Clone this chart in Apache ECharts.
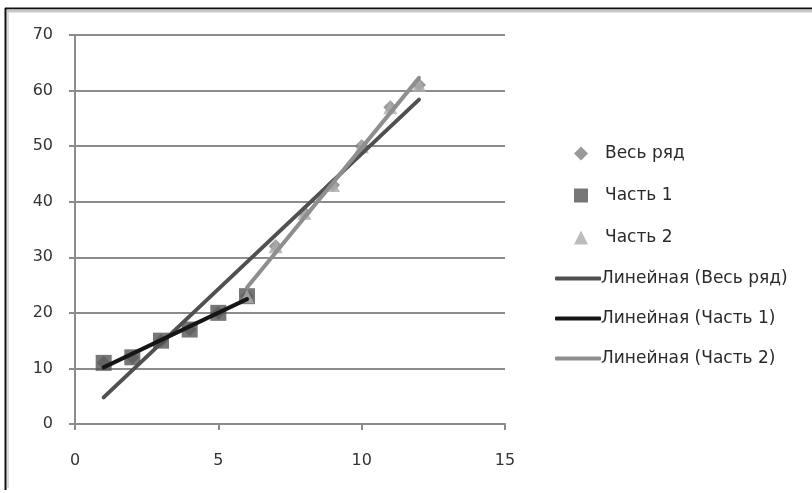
<!DOCTYPE html>
<html>
<head>
<meta charset="utf-8">
<script src="https://cdn.jsdelivr.net/npm/echarts@6/dist/echarts.min.js"></script>
<style>
  html, body { margin: 0; padding: 0; background: #fff; }
  #chart { width: 812px; height: 493px; }
</style>
</head>
<body>
<div id="chart"></div>
<script>
// Whole series and its two parts
const wholeX = [1, 2, 3, 4, 5, 6, 7, 8, 9, 10, 11, 12];
const wholeY = [11, 12, 15, 17, 20, 23, 32, 38, 43, 50, 57, 61];
const part1X = [1, 2, 3, 4, 5, 6];
const part1Y = [11, 12, 15, 17, 20, 23];
const part2X = [6, 7, 8, 9, 10, 11, 12];
const part2Y = [23, 32, 38, 43, 50, 57, 61];

const names = ['Весь ряд', 'Часть 1', 'Часть 2',
  'Линейная (Весь ряд)', 'Линейная (Часть 1)', 'Линейная (Часть 2)'];

const xTicks = [0, 5, 10, 15];
const yTicks = [0, 10, 20, 30, 40, 50, 60, 70];

function pairs(xs, ys) { return xs.map((x, i) => [x, ys[i]]); }

// Least-squares linear trend drawn between the first and last x of a series
function trend(xs, ys) {
  const n = xs.length;
  const mx = xs.reduce((a, b) => a + b, 0) / n;
  const my = ys.reduce((a, b) => a + b, 0) / n;
  let sxy = 0, sxx = 0;
  for (let i = 0; i < n; i++) {
    sxy += (xs[i] - mx) * (ys[i] - my);
    sxx += (xs[i] - mx) * (xs[i] - mx);
  }
  const k = sxy / sxx, b = my - k * mx;
  const x0 = Math.min(...xs), x1 = Math.max(...xs);
  return [[x0, k * x0 + b], [x1, k * x1 + b]];
}

const font = '"DejaVu Sans", sans-serif';
const chart = echarts.init(document.getElementById('chart'), null, { renderer: 'canvas' });

function trendSeries(name, data, color, z) {
  return {
    name, type: 'line', data, symbol: 'none', z,
    lineStyle: { color, width: 4, cap: 'round' },
    itemStyle: { color },
    emphasis: { disabled: true }, silent: true, animation: false
  };
}

const legendText = { color: '#2a2a2a', fontSize: 17, fontFamily: font, lineHeight: 14 };

chart.setOption({
  animation: false,
  grid: { left: 75, right: 307, top: 35, bottom: 69 },
  xAxis: {
    type: 'value', min: xTicks[0], max: xTicks[xTicks.length - 1], interval: 5,
    axisLine: { show: true, onZero: false, lineStyle: { color: '#8c8c8c', width: 2 } },
    axisTick: { show: true, length: 6, lineStyle: { color: '#8c8c8c', width: 2 } },
    axisLabel: { margin: 29, color: '#333', fontSize: 16, fontFamily: font },
    splitLine: { show: false }
  },
  yAxis: {
    type: 'value', min: yTicks[0], max: yTicks[yTicks.length - 1], interval: 10,
    axisLine: { show: true, lineStyle: { color: '#8c8c8c', width: 2 } },
    axisTick: { show: true, length: 6, lineStyle: { color: '#8c8c8c', width: 2 } },
    axisLabel: { margin: 22, color: '#333', fontSize: 16, fontFamily: font },
    splitLine: { show: true, lineStyle: { color: '#8c8c8c', width: 2 } }
  },
  legend: [
    {
      orient: 'vertical', left: 569, top: 140,
      itemWidth: 14, itemHeight: 14, itemGap: 25,
      textStyle: Object.assign({ padding: [0, 0, 0, 12] }, legendText),
      data: [
        { name: names[0], icon: 'diamond' },
        { name: names[1], icon: 'rect' },
        { name: names[2], icon: 'triangle' }
      ]
    },
    {
      orient: 'vertical', left: 550, top: 265,
      itemWidth: 46, itemHeight: 4, itemGap: 23,
      textStyle: Object.assign({ padding: [0, 0, 0, -5] }, legendText),
      data: [
        { name: names[3], icon: 'roundRect' },
        { name: names[4], icon: 'roundRect' },
        { name: names[5], icon: 'roundRect' }
      ]
    }
  ],
  graphic: [
    { type: 'line', shape: { x1: 5, y1: 8.5, x2: 812, y2: 8.5 }, style: { stroke: '#111', lineWidth: 2 }, silent: true },
    { type: 'line', shape: { x1: 7, y1: 11, x2: 812, y2: 11 }, style: { stroke: '#c8c8c8', lineWidth: 3 }, silent: true },
    { type: 'line', shape: { x1: 5.5, y1: 8, x2: 5.5, y2: 490 }, style: { stroke: '#111', lineWidth: 2 }, silent: true },
    { type: 'line', shape: { x1: 8, y1: 12, x2: 8, y2: 488 }, style: { stroke: '#dcdcdc', lineWidth: 2 }, silent: true }
  ],
  series: [
    { name: names[0], type: 'scatter', data: pairs(wholeX, wholeY), symbol: 'diamond', symbolSize: 14,
      itemStyle: { color: '#808080' }, z: 2 },
    { name: names[1], type: 'scatter', data: pairs(part1X, part1Y), symbol: 'rect', symbolSize: 16,
      itemStyle: { color: '#555555' }, z: 3 },
    { name: names[2], type: 'scatter', data: pairs(part2X, part2Y), symbol: 'triangle', symbolSize: 14,
      itemStyle: { color: '#ababab' }, z: 4 },
    trendSeries(names[3], trend(wholeX, wholeY), '#505050', 5),
    trendSeries(names[4], trend(part1X, part1Y), '#151515', 6),
    trendSeries(names[5], trend(part2X, part2Y), '#8e8e8e', 7)
  ]
});
</script>
</body>
</html>
